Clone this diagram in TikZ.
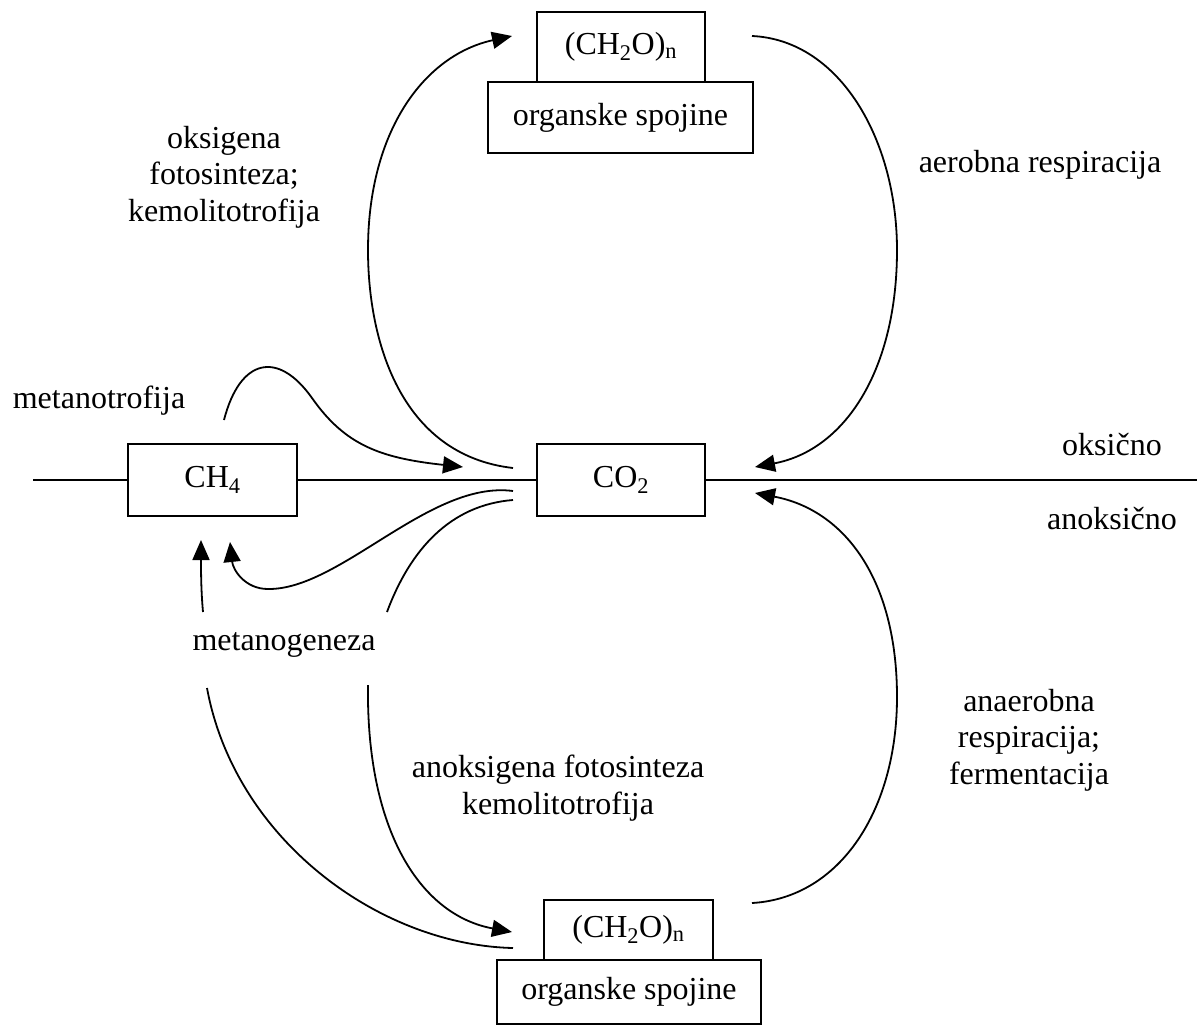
\documentclass[tikz,border=0pt]{standalone}
\usepackage{fontspec}
\setmainfont{Liberation Serif}
\usetikzlibrary{arrows.meta}
\begin{document}
\begin{tikzpicture}[x=1pt,y=-1pt,
  box/.style={draw, line width=2pt, inner sep=0pt, font=\fontsize{32}{36.5}\selectfont},
  lbl/.style={align=center, inner sep=0pt, font=\fontsize{32}{36.5}\selectfont},
  arr/.style={line width=1.8pt, -{Triangle[length=20pt,width=17pt]}},
  crv/.style={line width=1.8pt}]
\useasboundingbox (0,0) rectangle (1197,1029);
% boxes
\node[box, minimum width=168pt, minimum height=70pt] (ts) at (621,47) {(CH\textsubscript{2}O)\textsubscript{n}};
\node[box, minimum width=265pt, minimum height=71pt] (tb) at (620.5,117.5) {organske spojine};
\node[box, minimum width=168pt, minimum height=72pt] (co2) at (621,480) {CO\textsubscript{2}};
\node[box, minimum width=169pt, minimum height=72pt] (ch4) at (212.5,480) {CH\textsubscript{4}};
\node[box, minimum width=169pt, minimum height=60pt] (bs) at (628.5,930) {(CH\textsubscript{2}O)\textsubscript{n}};
\node[box, minimum width=264pt, minimum height=64pt] (bb) at (629,992) {organske spojine};
% labels
\node[lbl] (oks) at (224,177) {oksigena\\fotosinteza;\\kemolitotrofija};
\node[lbl, anchor=base] (aer) at (1040,172) {aerobna respiracija};
\node[lbl, anchor=base] (oksic) at (1112,455) {oksično};
\node[lbl, anchor=base] (anoksic) at (1112,529) {anoksično};
\node[lbl] (anaer) at (1029,740) {anaerobna\\respiracija;\\fermentacija};
\node[lbl] (anfot) at (558,788) {anoksigena fotosinteza\\kemolitotrofija};
\node[lbl, anchor=base] (mtr) at (99,408) {metanotrofija};
\node[lbl, anchor=base] (mgen) at (284,650) {metanogeneza};
% horizontal line
\coordinate (L) at (33,480);
\coordinate (R) at (1197,480);
\draw[crv] (L) -- (ch4.west);
\draw[crv] (ch4.east) -- (co2.west);
\draw[crv] (co2.east) -- (R);
% connector end points
\coordinate (a1) at (513,468);
\coordinate (a2) at (512,36);
\coordinate (b1) at (752,36);
\coordinate (b2) at (755,467);
\coordinate (c1) at (752,903);
\coordinate (c2) at (755,493);
\coordinate (d1) at (513,500);
\coordinate (d2) at (387,612);
\coordinate (d3) at (368,685);
\coordinate (d4) at (512,932);
\coordinate (e1) at (513,948);
\coordinate (e2) at (207,688);
\coordinate (f1) at (203,612);
\coordinate (f2) at (201,540);
\coordinate (g1) at (513,491);
\coordinate (g2) at (230,542);
\coordinate (h1) at (224,420);
\coordinate (h2) at (463,467);
% curves
\draw[arr] (a1) .. controls (400,455) and (368,340) .. (368,250) .. controls (368,130) and (425,55) .. (a2);
\draw[arr] (b1) .. controls (840,40) and (897,140) .. (897,250) .. controls (897,370) and (845,450) .. (b2);
\draw[arr] (c1) .. controls (840,898) and (897,810) .. (897,697) .. controls (897,580) and (845,510) .. (c2);
\draw[crv] (d1) .. controls (450,505) and (410,550) .. (d2);
\draw[arr] (d3) .. controls (366,830) and (420,915) .. (d4);
\draw[crv] (e1) .. controls (380,945) and (235,840) .. (e2);
\draw[arr] (f1) .. controls (201,590) and (201,570) .. (f2);
\draw[arr] (g1) .. controls (430,480) and (340,590) .. (268,589) .. controls (245,589) and (233,570) .. (g2);
\draw[arr] (h1) .. controls (240,358) and (278,350) .. (312,398) .. controls (345,445) and (380,458) .. (h2);
\end{tikzpicture}
\end{document}
